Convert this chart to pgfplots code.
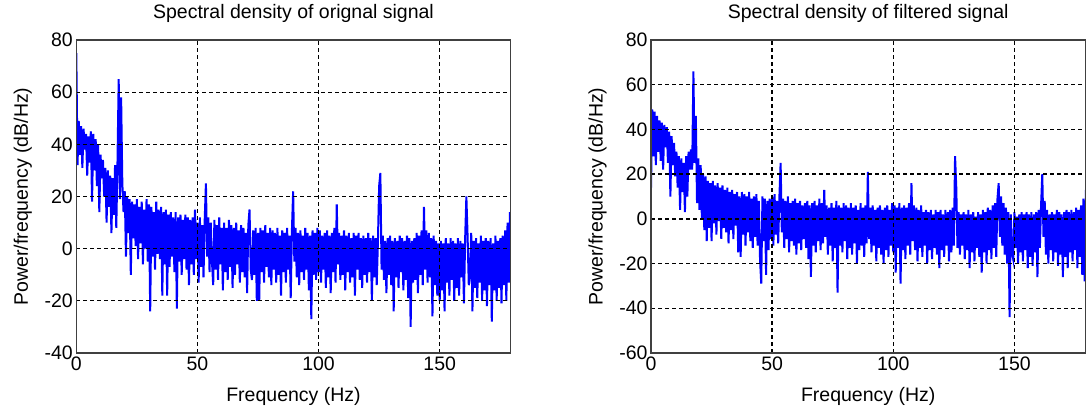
\documentclass[border=0pt]{standalone}
\usepackage{fontspec}
\setmainfont{Liberation Sans}
\usepackage{pgfplots}
\pgfplotsset{compat=1.18}
\definecolor{psdblue}{RGB}{0,0,255}
\pgfplotsset{
  psd/.style={
    scale only axis, width=434.4pt, height=313pt,
    xmin=0, xmax=179.3, xtick={0,50,100,150},
    grid=major,
    grid style={black, line width=1.3pt, dash pattern=on 4pt off 3pt},
    axis line style={black!75, line width=1.4pt},
    major tick length=0pt,
    axis on top,
    tick label style={font=\fontsize{19.5}{22}\selectfont},
    label style={font=\fontsize{19.5}{22}\selectfont},
    title style={font=\fontsize{19.5}{22}\selectfont,
      at={(axis description cs:0.5,1.05)}, anchor=base},
    /pgf/number format/assume math mode=true,
    xlabel={Frequency (Hz)},
    ylabel={Power/frequency (dB/Hz)},
    xlabel style={at={(axis description cs:0.5,-0.1565)}, anchor=base},
    ylabel style={at={(axis description cs:-0.123,0.5)}, anchor=center},
  },
  psdline/.style={psdblue, line width=2pt, mark=none, line join=miter},
}

\begin{document}
\begin{tikzpicture}
\useasboundingbox (0,0) rectangle (1086pt,414pt);

% original signal
\begin{axis}[psd, at={(76.3pt,61pt)}, anchor=south west,
  ymin=-40, ymax=80, ytick={-40,-20,0,20,40,60,80},
  title={Spectral density of orignal signal}]
\addplot[psdline] coordinates {
(0,75)(0.5,32)(1,49)(1.5,36)(2,47)(2.5,31)(3,46)(3.5,38)(4,44)(4.5,28)
(5,43)(5.5,33)(6,45)(6.5,18)(7,44)(7.5,30)(8,42)(8.5,24)(9,40)(9.5,14)
(10,36)(10.5,27)(11,34)(11.5,20)(12,31)(12.5,10)(13,30)(13.5,16)(14,28)(14.5,6)
(15,27)(15.5,13)(16,32)(16.5,8)(17,33)(17.5,65)(18,19)(18.5,58)(19,25)(19.5,14)
(20,22)(20.5,-3)(21,20)(21.5,6)(22,19)(22.5,-10)(23,18)(23.5,4)(24,17)(24.5,1)
(25,19)(25.5,-4)(26,16)(26.5,2)(27,18)(27.5,-6)(28,15)(28.5,0)(29,19)(29.5,-5)
(30,17)(30.5,-24)(31,16)(31.5,-3)(32,14)(32.5,-8)(33,18)(33.5,-2)(34,15)(34.5,-4)
(35,16)(35.5,-18)(36,14)(36.5,-6)(37,15)(37.5,-18)(38,13)(38.5,-7)(39,14)(39.5,-3)
(40,12)(40.5,-9)(41,14)(41.5,-23)(42,12)(42.5,-5)(43,13)(43.5,-10)(44,11)(44.5,-4)
(45,13)(45.5,-8)(46,12)(46.5,-14)(47,11)(47.5,-6)(48,12)(48.5,-10)(49,15)(49.5,-4)
(50,10)(50.5,-13)(51,12)(51.5,-7)(52,9)(52.5,-11)(53,11)(53.5,25)(54,-3)(54.5,12)
(55,-9)(55.5,10)(56,-5)(56.5,-14)(57,11)(57.5,-8)(58,9)(58.5,-12)(59,12)(59.5,-6)
(60,8)(60.5,-16)(61,10)(61.5,-9)(62,8)(62.5,-12)(63,11)(63.5,-7)(64,9)(64.5,-15)
(65,8)(65.5,-10)(66,10)(66.5,-6)(67,7)(67.5,-13)(68,9)(68.5,-9)(69,8)(69.5,-11)
(70,6)(70.5,-17)(71,9)(71.5,15)(72,-8)(72.5,-12)(73,7)(73.5,-10)(74,8)(74.5,-20)
(75,6)(75.5,-20)(76,8)(76.5,-9)(77,7)(77.5,-13)(78,9)(78.5,-7)(79,6)(79.5,-11)
(80,8)(80.5,-14)(81,7)(81.5,-8)(82,6)(82.5,-13)(83,8)(83.5,-10)(84,5)(84.5,-18)
(85,7)(85.5,-9)(86,6)(86.5,-13)(87,8)(87.5,-8)(88,5)(88.5,-19)(89,7)(89.5,22)
(90,-5)(90.5,8)(91,-11)(91.5,6)(92,-14)(92.5,7)(93,-9)(93.5,5)(94,-12)(94.5,8)
(95,-8)(95.5,6)(96,-16)(96.5,5)(97,-27)(97.5,7)(98,-10)(98.5,6)(99,-12)(99.5,8)
(100,-9)(100.5,7)(101,-13)(101.5,5)(102,-8)(102.5,6)(103,-15)(103.5,7)(104,-11)(104.5,5)
(105,-17)(105.5,6)(106,-9)(106.5,8)(107,-13)(107.5,17)(108,-6)(108.5,6)(109,-12)(109.5,5)
(110,-10)(110.5,7)(111,-16)(111.5,5)(112,-9)(112.5,6)(113,-13)(113.5,4)(114,-11)(114.5,6)
(115,-18)(115.5,5)(116,-8)(116.5,6)(117,-12)(117.5,4)(118,-15)(118.5,5)(119,-10)(119.5,4)
(120,-13)(120.5,6)(121,-9)(121.5,4)(122,-20)(122.5,5)(123,-11)(123.5,4)(124,-14)(124.5,3)
(125,24)(125.5,29)(126,-8)(126.5,5)(127,-12)(127.5,3)(128,-17)(128.5,4)(129,-10)(129.5,5)
(130,-14)(130.5,3)(131,-24)(131.5,4)(132,-11)(132.5,3)(133,-15)(133.5,5)(134,-9)(134.5,4)
(135,-16)(135.5,3)(136,-12)(136.5,5)(137,-19)(137.5,4)(138,-30)(138.5,3)(139,-13)(139.5,4)
(140,-12)(140.5,6)(141,-17)(141.5,5)(142,-10)(142.5,7)(143,-14)(143.5,16)(144,-8)(144.5,7)
(145,-13)(145.5,6)(146,-11)(146.5,4)(147,-26)(147.5,5)(148,-14)(148.5,3)(149,-18)(149.5,2)
(150,-20)(150.5,3)(151,-16)(151.5,2)(152,-24)(152.5,4)(153,-13)(153.5,2)(154,-18)(154.5,4)
(155,-12)(155.5,3)(156,-20)(156.5,2)(157,-15)(157.5,4)(158,-18)(158.5,3)(159,-11)(159.5,2)
(160,-21)(160.5,4)(161,20)(161.5,5)(162,-14)(162.5,-10)(163,6)(163.5,-24)(164,3)(164.5,-15)
(165,4)(165.5,-19)(166,2)(166.5,-13)(167,5)(167.5,-20)(168,3)(168.5,-16)(169,4)(169.5,-22)
(170,3)(170.5,-14)(171,4)(171.5,-28)(172,2)(172.5,-16)(173,5)(173.5,-20)(174,3)(174.5,-15)
(175,4)(175.5,-21)(176,5)(176.5,-14)(177,7)(177.5,-20)(178,10)(178.5,-13)(179,14)(179.5,-8)
};
\end{axis}

% filtered signal
\begin{axis}[psd, at={(651pt,61pt)}, anchor=south west,
  ymin=-60, ymax=80, ytick={-60,-40,-20,0,20,40,60,80},
  title={Spectral density of filtered signal}]
\addplot[psdline] coordinates {
(0,14)(0.5,49)(1,28)(1.5,48)(2,24)(2.5,46)(3,30)(3.5,44)(4,26)(4.5,43)
(5,22)(5.5,42)(6,32)(6.5,41)(7,25)(7.5,39)(8,10)(8.5,37)(9,24)(9.5,34)
(10,19)(10.5,30)(11,14)(11.5,28)(12,4)(12.5,27)(13,12)(13.5,25)(14,3)(14.5,28)
(15,10)(15.5,30)(16,22)(16.5,31)(17,22)(17.5,66)(18,25)(18.5,46)(19,7)(19.5,27)
(20,4)(20.5,24)(21,0)(21.5,20)(22,-5)(22.5,19)(23,-10)(23.5,17)(24,-4)(24.5,16)
(25,-10)(25.5,17)(26,-2)(26.5,15)(27,-7)(27.5,16)(28,-1)(28.5,14)(29,-9)(29.5,15)
(30,-4)(30.5,13)(31,-6)(31.5,14)(32,-11)(32.5,12)(33,-5)(33.5,13)(34,-9)(34.5,11)
(35,-3)(35.5,12)(36,-15)(36.5,10)(37,-17)(37.5,12)(38,-7)(38.5,11)(39,-12)(39.5,10)
(40,-6)(40.5,12)(41,-10)(41.5,9)(42,-13)(42.5,10)(43,-8)(43.5,11)(44,-12)(44.5,8)
(45,-18)(45.5,-29)(46,10)(46.5,-10)(47,9)(47.5,-25)(48,8)(48.5,-14)(49,9)(49.5,-9)
(50,10)(50.5,-12)(51,11)(51.5,-7)(52,8)(52.5,-11)(53,10)(53.5,25)(54,-6)(54.5,9)
(55,-13)(55.5,8)(56,-9)(56.5,10)(57,-15)(57.5,7)(58,-10)(58.5,8)(59,-12)(59.5,9)
(60,-16)(60.5,7)(61,-11)(61.5,8)(62,-14)(62.5,6)(63,-9)(63.5,7)(64,-13)(64.5,8)
(65,-18)(65.5,6)(66,-26)(66.5,7)(67,-12)(67.5,8)(68,-15)(68.5,6)(69,-10)(69.5,9)
(70,-14)(70.5,7)(71,-11)(71.5,13)(72,-8)(72.5,6)(73,-16)(73.5,5)(74,-12)(74.5,7)
(75,-19)(75.5,5)(76,-13)(76.5,8)(77,-33)(77.5,6)(78,-12)(78.5,5)(79,-15)(79.5,7)
(80,-10)(80.5,6)(81,-18)(81.5,5)(82,-13)(82.5,7)(83,-16)(83.5,5)(84,-11)(84.5,6)
(85,-20)(85.5,4)(86,-14)(86.5,7)(87,-12)(87.5,5)(88,-17)(88.5,6)(89,-11)(89.5,21)
(90,-9)(90.5,5)(91,-15)(91.5,6)(92,-12)(92.5,4)(93,-19)(93.5,5)(94,-13)(94.5,6)
(95,-16)(95.5,4)(96,-20)(96.5,5)(97,-14)(97.5,6)(98,-17)(98.5,4)(99,-12)(99.5,7)
(100,-15)(100.5,6)(101,-24)(101.5,5)(102,-13)(102.5,7)(103,-29)(103.5,5)(104,-14)(104.5,6)
(105,-18)(105.5,5)(106,-12)(106.5,7)(107,-16)(107.5,16)(108,-10)(108.5,6)(109,-14)(109.5,5)
(110,-19)(110.5,4)(111,-13)(111.5,6)(112,-17)(112.5,3)(113,-12)(113.5,4)(114,-20)(114.5,3)
(115,-14)(115.5,4)(116,-18)(116.5,2)(117,-13)(117.5,4)(118,-16)(118.5,3)(119,-22)(119.5,4)
(120,-14)(120.5,2)(121,-17)(121.5,4)(122,-12)(122.5,3)(123,-19)(123.5,4)(124,-15)(124.5,5)
(125,-12)(125.5,28)(126,14)(126.5,-13)(127,3)(127.5,-16)(128,2)(128.5,-12)(129,3)(129.5,-18)
(130,2)(130.5,-14)(131,4)(131.5,-22)(132,2)(132.5,-15)(133,3)(133.5,-19)(134,1)(134.5,-13)
(135,3)(135.5,-17)(136,2)(136.5,-24)(137,4)(137.5,-15)(138,3)(138.5,-20)(139,5)(139.5,-14)
(140,4)(140.5,-18)(141,6)(141.5,-13)(142,7)(142.5,-17)(143,9)(143.5,16)(144,-8)(144.5,10)
(145,-12)(145.5,7)(146,-16)(146.5,5)(147,-20)(147.5,3)(148,-44)(148.5,2)(149,-15)(149.5,-18)
(150,3)(150.5,-13)(151,1)(151.5,-20)(152,2)(152.5,-15)(153,3)(153.5,-19)(154,2)(154.5,-14)
(155,3)(155.5,-22)(156,2)(156.5,-17)(157,3)(157.5,-21)(158,2)(158.5,-15)(159,3)(159.5,-26)
(160,4)(160.5,-13)(161,6)(161.5,20)(162,-8)(162.5,8)(163,-16)(163.5,4)(164,-20)(164.5,2)
(165,-14)(165.5,3)(166,-19)(166.5,2)(167,-15)(167.5,4)(168,-21)(168.5,3)(169,-16)(169.5,2)
(170,-26)(170.5,3)(171,-17)(171.5,4)(172,-22)(172.5,3)(173,-15)(173.5,4)(174,-19)(174.5,3)
(175,-14)(175.5,5)(176,-22)(176.5,4)(177,-17)(177.5,6)(178,-25)(178.5,9)(179,-28)(179.5,13)
};
\end{axis}
\end{tikzpicture}
\end{document}
